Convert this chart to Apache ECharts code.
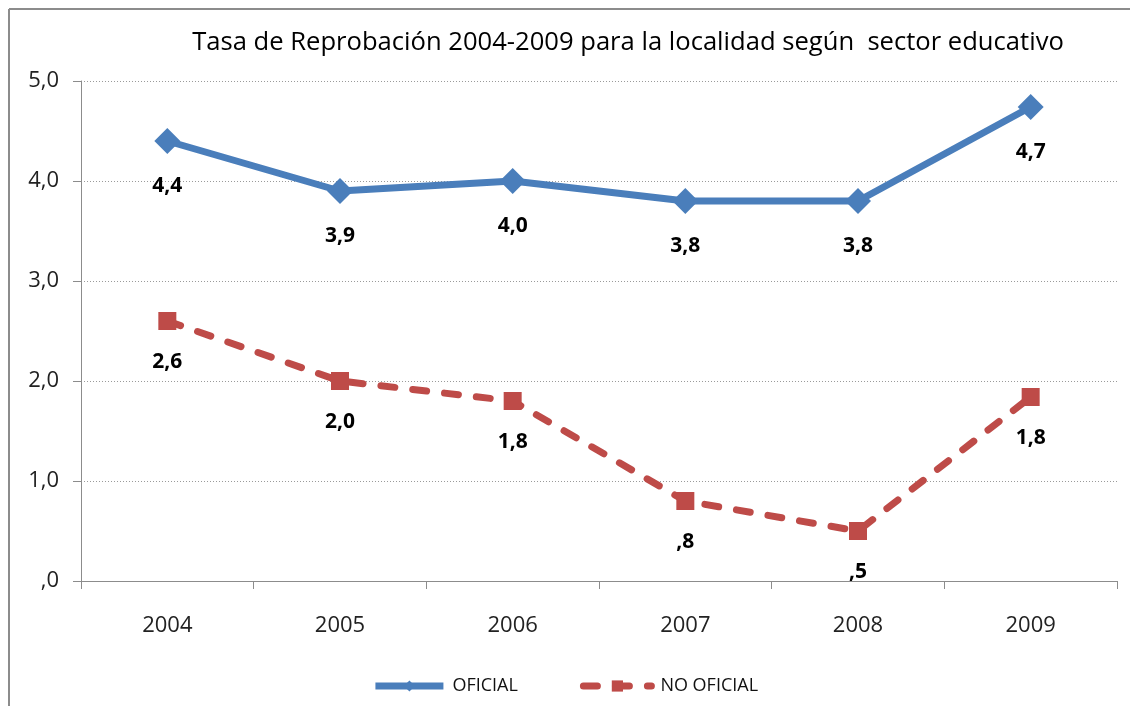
<!DOCTYPE html>
<html>
<head>
<meta charset="utf-8">
<script src="https://cdn.jsdelivr.net/npm/echarts@6/dist/echarts.min.js"></script>
<style>
  html, body { margin: 0; padding: 0; background: #fff; }
  #chart { width: 1130px; height: 706px; }
</style>
</head>
<body>
<div id="chart"></div>
<script>
const years = ['2004', '2005', '2006', '2007', '2008', '2009'];
const oficial = [4.4, 3.9, 4.0, 3.8, 3.8, 4.74];
const noOficial = [2.6, 2.0, 1.8, 0.8, 0.5, 1.84];
const yTicks = [0, 1, 2, 3, 4, 5];

// 4.4 -> "4,4", 0.8 -> ",8"
function fmt(v) {
  return v.toFixed(1).replace('.', ',').replace(/^0/, '');
}

const chart = echarts.init(document.getElementById('chart'));
chart.setOption({
  animation: false,
  backgroundColor: '#fff',
  textStyle: { fontFamily: 'Open Sans' },
  title: {
    text: 'Tasa de Reprobación 2004-2009 para la localidad según  sector educativo',
    left: 623,
    textAlign: 'center',
    top: 25,
    textStyle: { fontSize: 25.6, fontWeight: 'normal', color: '#000', fontFamily: 'Open Sans' }
  },
  graphic: [
    { type: 'line', shape: { x1: 9, y1: 9, x2: 1130, y2: 9 }, style: { stroke: '#8c8c8c', lineWidth: 2 } },
    { type: 'line', shape: { x1: 9, y1: 9, x2: 9, y2: 706 }, style: { stroke: '#8c8c8c', lineWidth: 2 } },
    { type: 'text', left: 512, top: -15, style: { text: 'Gráfico 18', font: 'bold 19px "Open Sans"', fill: '#000' } }
  ],
  legend: {
    bottom: 6,
    left: 'center',
    itemWidth: 68,
    itemHeight: 14,
    itemGap: 62,
    lineStyle: { width: 7 },
    textStyle: { fontSize: 18, color: '#111', fontFamily: 'Open Sans', padding: [0, 0, 0, 4] },
    data: ['OFICIAL', 'NO OFICIAL']
  },
  grid: { left: 81, right: 13, top: 81, bottom: 125 },
  xAxis: {
    type: 'category',
    data: years,
    boundaryGap: true,
    axisLine: { lineStyle: { color: '#8c8c8c', width: 1 } },
    axisTick: { show: true, length: 8, alignWithLabel: false, lineStyle: { color: '#8c8c8c' } },
    axisLabel: { fontSize: 22, color: '#222', margin: 34 }
  },
  yAxis: {
    type: 'value',
    min: 0,
    max: 5,
    interval: 1,
    axisLine: { show: true, lineStyle: { color: '#8c8c8c' } },
    axisTick: { show: true, length: 8, lineStyle: { color: '#8c8c8c' } },
    axisLabel: {
      fontSize: 22, color: '#222', margin: 22,
      formatter: v => yTicks.includes(v) ? fmt(v) : ''
    },
    splitLine: { lineStyle: { color: '#9a9a9a', type: [1, 2], width: 1 } }
  },
  series: [
    {
      name: 'OFICIAL',
      type: 'line',
      data: oficial,
      symbol: 'diamond',
      symbolSize: 26,
      color: '#4a7ebb',
      lineStyle: { width: 7, color: '#4a7ebb' },
      itemStyle: { color: '#4a7ebb' },
      label: {
        show: true, position: 'bottom', distance: 22,
        fontSize: 21, fontWeight: 'bold', color: '#000',
        formatter: p => fmt(p.value)
      },
      z: 3
    },
    {
      name: 'NO OFICIAL',
      type: 'line',
      data: noOficial,
      symbol: 'rect',
      symbolSize: 18,
      color: '#be4b48',
      lineStyle: { width: 7, color: '#be4b48', type: [14, 18], cap: 'round' },
      itemStyle: { color: '#be4b48' },
      label: {
        show: true, position: 'bottom', distance: 22,
        fontSize: 21, fontWeight: 'bold', color: '#000',
        formatter: p => fmt(p.value)
      },
      z: 2
    }
  ]
});
</script>
</body>
</html>
